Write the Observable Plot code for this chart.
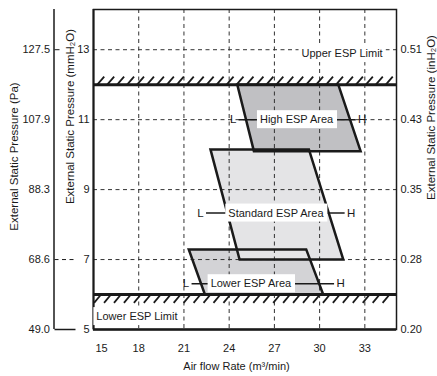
<!DOCTYPE html>
<html><head><meta charset="utf-8">
<script src="https://cdn.jsdelivr.net/npm/d3@7"></script>
<script src="https://cdn.jsdelivr.net/npm/@observablehq/plot@0.6"></script>
<style>body{margin:0;background:#fff} svg{display:block}</style>
</head><body><div id="chart"></div>
<script>
// ---- data ----
const xTicks = [15, 18, 21, 24, 27, 30, 33];
const yTicks = [5, 7, 9, 11, 13];
const paLabels = ["49.0", "68.6", "88.3", "107.9", "127.5"];
const inLabels = ["0.20", "0.28", "0.35", "0.43", "0.51"];

const limitY = [12, 6];
const limitLabels = ["Upper ESP Limit", "Lower ESP Limit"];
const limitLabelX = [31.49, 17.88];
const limitLabelY = [12.89, 5.37];

const areaNames = ["High ESP Area", "Standard ESP Area", "Lower ESP Area"];
const highX = [24.54, 31.24, 32.72, 25.64];
const highY = [12, 12, 10.1, 10.1];
const standardX = [22.76, 29.29, 31.57, 24.69];
const standardY = [10.15, 10.15, 7, 7];
const lowerX = [21.32, 29.11, 30.24, 22.39];
const lowerY = [7.29, 7.29, 6, 6];

const labelX = [28.47, 27.1, 25.44];
const labelY = [11, 8.33, 6.31];
const lowEndX = [24.26, 22.1, 21.14];
const highEndX = [32.82, 32.09, 31.39];

// ---- build tables ----
const polyTable = (name, xs, ys) => xs.map((x, i) => ({name, x, y: ys[i]}));
const highPts = polyTable(areaNames[0], highX, highY);
const stdPts = polyTable(areaNames[1], standardX, standardY);
const lowPts = polyTable(areaNames[2], lowerX, lowerY);
const allPts = [...highPts, ...lowPts, ...stdPts];

const areaLabels = areaNames.map((name, i) => ({name, x: labelX[i], y: labelY[i], lx: lowEndX[i], hx: highEndX[i]}));
const limitTable = limitLabels.map((t, i) => ({t, x: limitLabelX[i], y: limitLabelY[i]}));

const hatchUp = d3.range(15.25, 34.7, 0.66);
const hatchDown = d3.range(15.5, 35.1, 0.66);

const font = "'Liberation Sans', Arial, Helvetica, sans-serif";
const ink = "#1a1a1a";
const gridStyle = {stroke: "#333", strokeWidth: 1, strokeDasharray: "4,3.5"};
const polyStroke = {stroke: ink, strokeWidth: 2.5, strokeLinejoin: "miter", strokeMiterlimit: 10, fill: "none", curve: "linear-closed"};
const idx = (d) => yTicks.indexOf(d);
const titleStyle = {textAnchor: "middle", lineAnchor: "middle", fill: ink};

const svg = Plot.plot({
  width: 437, height: 376,
  marginLeft: 93, marginRight: 41, marginTop: 9, marginBottom: 47,
  x: {domain: [15, 35.1]},
  y: {domain: [5, 14.15]},
  style: {fontFamily: font, fontSize: "11px", color: ink, background: "white", overflow: "visible"},
  marks: [
    // fills
    Plot.line(highPts, {x: "x", y: "y", curve: "linear-closed", fill: "#c0c0c3", stroke: "none"}),
    Plot.line(lowPts, {x: "x", y: "y", curve: "linear-closed", fill: "#d3d3d6", stroke: "none"}),
    Plot.line(stdPts, {x: "x", y: "y", curve: "linear-closed", fill: "#e4e4e6", stroke: "none"}),
    // grid
    Plot.ruleX(xTicks.slice(1), gridStyle),
    Plot.ruleY(yTicks.slice(1), gridStyle),
    // outlines
    Plot.line(allPts, {x: "x", y: "y", z: "name", ...polyStroke}),
    // frame
    Plot.frame({stroke: ink, strokeWidth: 1.5}),
    Plot.ruleY([5], {stroke: ink, strokeWidth: 2.5}),
    Plot.ruleX([15], {stroke: ink, strokeWidth: 2}),
    // limits
    Plot.ruleY(limitY, {stroke: ink, strokeWidth: 3}),
    Plot.link(hatchUp, {x1: d => d, y1: () => 12, x2: d => d + 0.46, y2: () => 12.23, stroke: ink, strokeWidth: 1.8}),
    Plot.link(hatchDown, {x1: d => d, y1: () => 6, x2: d => d - 0.46, y2: () => 5.76, stroke: ink, strokeWidth: 1.8}),
    // L-H connectors
    Plot.ruleY(areaLabels, {y: "y", x1: "lx", x2: "hx", insetLeft: 6, insetRight: 6, stroke: ink, strokeWidth: 1.5}),
    Plot.text(areaLabels, {x: "lx", y: "y", text: () => "L", fontSize: 11.5, fill: ink}),
    Plot.text(areaLabels, {x: "hx", y: "y", text: () => "H", fontSize: 11.5, fill: ink}),
    Plot.text(areaLabels, {x: "x", y: "y", text: "name", fontSize: 11, fill: ink}),
    Plot.text(limitTable, {x: "x", y: "y", text: "t", fontSize: 11, fill: ink}),
    // axes
    Plot.axisX(xTicks.slice(1), {tickSize: 0, tickPadding: 15, label: null}),
    Plot.axisX([15], {tickSize: 0, tickPadding: 15, dx: 8, label: null}),
    Plot.axisY(yTicks, {anchor: "left", tickSize: 0, tickPadding: 4, label: null}),
    Plot.axisY(yTicks, {anchor: "left", tickSize: 0, tickPadding: 4, dx: -39.5, tickFormat: d => paLabels[idx(d)], label: null}),
    Plot.axisY(yTicks, {anchor: "right", tickSize: 0, tickPadding: 4, tickFormat: d => inLabels[idx(d)], label: null}),
    Plot.ruleX([15], {dx: -39.5, stroke: ink, strokeWidth: 1.5}),
    Plot.axisY([5], {anchor: "right", dx: -342.5, tickSize: 21, fill: "none", stroke: ink, strokeWidth: 1.5, label: null}),
    Plot.axisY([7], {anchor: "right", dx: -342.5, tickSize: 21, fill: "none", stroke: ink, strokeDasharray: "4,3.5", label: null}),
    Plot.axisY([13], {anchor: "right", dx: -342.5, tickSize: 5, fill: "none", stroke: ink, label: null}),
    // titles
    Plot.text(["Air flow Rate (m³/min)"], {frameAnchor: "bottom", dx: -8.5, dy: 37, fontSize: 11, ...titleStyle}),
    Plot.text(["External Static Pressure (mmH₂O)"], {frameAnchor: "left", rotate: -90, dx: -23, dy: -53, fontSize: 11.5, ...titleStyle}),
    Plot.text(["External Static Pressure (Pa)"], {frameAnchor: "left", rotate: -90, dx: -79, dy: -13, fontSize: 11.5, ...titleStyle}),
    Plot.text(["External Static Pressure (inH₂O)"], {frameAnchor: "right", rotate: -90, dx: 35, dy: -52, fontSize: 11.5, ...titleStyle})
  ]
});
document.getElementById("chart").append(svg);

// white boxes behind the in-plot labels
const boxed = new Set([...areaNames, ...limitLabels]);
svg.querySelectorAll("text").forEach(t => {
  if (!boxed.has(t.textContent)) return;
  const b = t.getBBox();
  const padX = 3, padY = 3;
  const r = document.createElementNS("http://www.w3.org/2000/svg", "rect");
  r.setAttribute("x", b.x - padX);
  r.setAttribute("y", b.y - padY);
  r.setAttribute("width", b.width + 2 * padX);
  r.setAttribute("height", b.height + 2 * padY);
  r.setAttribute("fill", "white");
  r.setAttribute("stroke", "none");
  const tr = t.getAttribute("transform");
  if (tr) r.setAttribute("transform", tr);
  t.parentNode.insertBefore(r, t);
});
</script>
</body></html>
